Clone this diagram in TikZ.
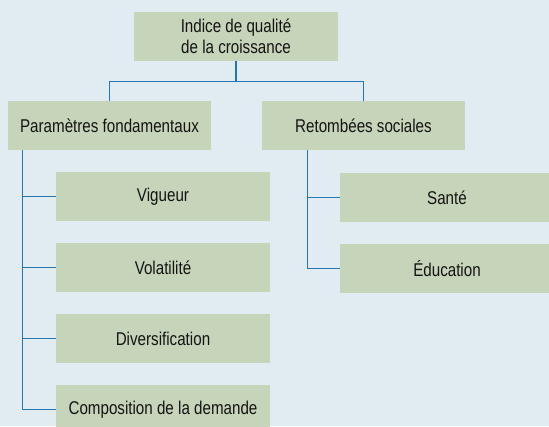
\documentclass[tikz,border=0pt]{standalone}
\usepackage{fontspec}
\setmainfont[FakeStretch=0.82]{Liberation Sans}
\usetikzlibrary{calc}
\definecolor{bgc}{HTML}{E1ECF2}
\definecolor{boxc}{HTML}{C6D4B9}
\definecolor{linec}{HTML}{2676B6}
\definecolor{txtc}{HTML}{141414}
\tikzset{
  box/.style={rectangle, fill=boxc, inner sep=0pt, text=txtc, align=center,
    font=\fontsize{18.5}{21}\selectfont, minimum height=49pt},
  lvlbox/.style={box, minimum width=203pt},
  childbox/.style={box, minimum width=214pt},
  conn/.style={draw=linec, line width=1.1pt}
}
\begin{document}
\begin{tikzpicture}[x=1pt,y=1pt]
\useasboundingbox (0,0) rectangle (549,-426);
\fill[bgc] (0,0) rectangle (549,-426);
\clip (0,0) rectangle (549,-426);
\node[box, minimum width=204pt] (top) at (236,-36.5) {Indice de qualité\\de la croissance};
\node[lvlbox] (p) at (109.5,-125.5) {Paramètres fondamentaux};
\node[lvlbox] (r) at (363.5,-125.5) {Retombées sociales};
\node[childbox] (vig) at (163,-196.5) {Vigueur};
\node[childbox] (vol) at (163,-267.5) {Volatilité};
\node[childbox] (div) at (163,-338.5) {Diversification};
\node[childbox] (comp) at (163,-409.5) {Composition de la demande};
\node[childbox] (san) at (447,-197.5) {Santé};
\node[childbox] (edu) at (447,-268.5) {Éducation};
\coordinate (mid) at ($(top.south)+(0,-20)$);
\draw[conn] (top.south) -- (mid) -| (p.north);
\draw[conn] (mid) -| (r.north);
\coordinate (pl) at ($(p.south west)+(15,0)$);
\coordinate (rl) at ($(r.south west)+(46,0)$);
\draw[conn] (pl) |- (comp.west);
\foreach \n in {vig,vol,div} \draw[conn] (pl |- \n.west) -- (\n.west);
\draw[conn] (rl) |- (edu.west);
\draw[conn] (rl |- san.west) -- (san.west);
\end{tikzpicture}
\end{document}
